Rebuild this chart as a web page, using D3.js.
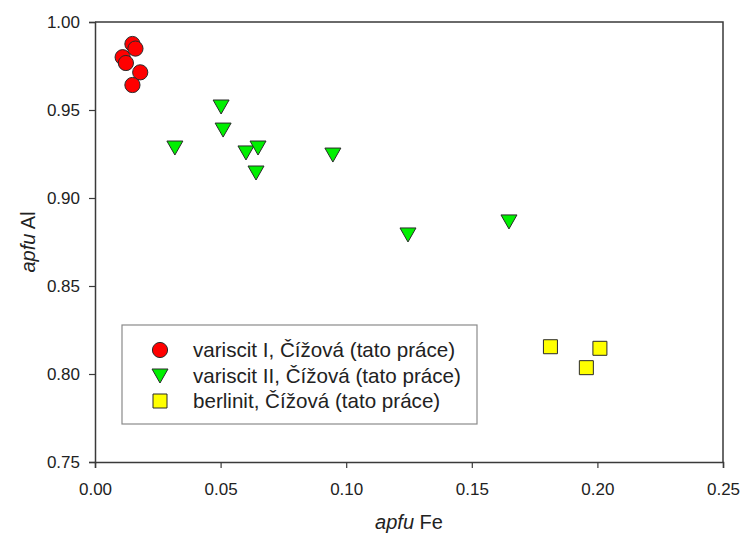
<!DOCTYPE html>
<html>
<head>
<meta charset="utf-8">
<script src="https://cdn.jsdelivr.net/npm/d3@7/dist/d3.min.js"></script>
<style>
  html, body { margin: 0; padding: 0; background: #fff; }
  svg { display: block; }
  text { font-family: "Liberation Sans", Arial, sans-serif; fill: #222; }
</style>
</head>
<body>
<svg id="chart" width="743" height="533"></svg>
<script>
// Variscite I (Fe, Al in apfu)
const varisciteI_Fe = [0.0149, 0.0161, 0.0110, 0.0123, 0.0180, 0.0149];
const varisciteI_Al = [0.9875, 0.9849, 0.9800, 0.9767, 0.9714, 0.9642];

// Variscite II
const varisciteII_Fe = [0.0318, 0.0502, 0.0510, 0.0601, 0.0649, 0.0641, 0.0947, 0.1246, 0.1648];
const varisciteII_Al = [0.9284, 0.9517, 0.9386, 0.9256, 0.9284, 0.9142, 0.9244, 0.8790, 0.8864];

// Berlinite
const berlinite_Fe = [0.1813, 0.2010, 0.1956];
const berlinite_Al = [0.8155, 0.8146, 0.8036];

const xTicks = [0.00, 0.05, 0.10, 0.15, 0.20, 0.25];
const yTicks = [0.75, 0.80, 0.85, 0.90, 0.95, 1.00];

const seriesNames = [
  "variscit I, Čížová (tato práce)",
  "variscit II, Čížová (tato práce)",
  "berlinit, Čížová (tato práce)"
];

const svg = d3.select("#chart");
const margin = { left: 95, right: 20, top: 22, bottom: 71 };
const W = 743, H = 533;
const x = d3.scaleLinear().domain([0, 0.25]).range([margin.left, W - margin.right]);
const y = d3.scaleLinear().domain([0.75, 1.00]).range([H - margin.bottom, margin.top]);

const axisColor = "#3a3a3a";

// frame (top and right edges)
svg.append("path")
  .attr("d", `M${x(0)},${y(1)}H${x(0.25)}V${y(0.75)}`)
  .attr("fill", "none").attr("stroke", axisColor).attr("stroke-width", 1.5);

const xAxis = svg.append("g")
  .attr("transform", `translate(0,${y(0.75)})`)
  .call(d3.axisBottom(x).tickValues(xTicks).tickFormat(d3.format(".2f")).tickSize(6).tickPadding(15));
const yAxis = svg.append("g")
  .attr("transform", `translate(${x(0)},0)`)
  .call(d3.axisLeft(y).tickValues(yTicks).tickFormat(d3.format(".2f")).tickSize(6).tickPadding(9));

[xAxis, yAxis].forEach(g => {
  g.select(".domain").attr("stroke", axisColor).attr("stroke-width", 1.5);
  g.selectAll(".tick line").attr("stroke", axisColor).attr("stroke-width", 1.2);
  g.selectAll(".tick text")
    .attr("font-family", "\"Liberation Sans\", Arial, sans-serif")
    .attr("font-size", 17).attr("fill", "#3a3a3a");
});

// axis titles
const xt = svg.append("text")
  .attr("x", (x(0) + x(0.25)) / 2).attr("y", 529)
  .attr("text-anchor", "middle").attr("font-size", 20);
xt.append("tspan").attr("font-style", "italic").text("apfu");
xt.append("tspan").text(" Fe");

const yt = svg.append("text")
  .attr("transform", `translate(35,${(y(0.75) + y(1)) / 2}) rotate(-90)`)
  .attr("text-anchor", "middle").attr("font-size", 20);
yt.append("tspan").attr("font-style", "italic").text("apfu");
yt.append("tspan").text(" Al");

const markerStroke = "#2a2a2a";
const circleSym = d3.symbol().type(d3.symbolCircle).size(Math.PI * 7.6 * 7.6);
const squareSym = d3.symbol().type(d3.symbolSquare).size(14 * 14);
// downward-pointing triangle
function triDown(cx, cy, w, h) {
  return `M${cx - w / 2},${cy - h / 2}L${cx + w / 2},${cy - h / 2}L${cx},${cy + h / 2}Z`;
}
const greenFill = "#00f000";

const plot = svg.append("g");

// berlinite
plot.selectAll(".sq").data(d3.range(berlinite_Fe.length)).join("path")
  .attr("d", squareSym)
  .attr("transform", i => `translate(${x(berlinite_Fe[i])},${y(berlinite_Al[i])})`)
  .attr("fill", "#ffff00").attr("stroke", markerStroke).attr("stroke-width", 1);

// variscite II
plot.selectAll(".tri").data(d3.range(varisciteII_Fe.length)).join("path")
  .attr("d", i => triDown(x(varisciteII_Fe[i]), y(varisciteII_Al[i]), 16, 14))
  .attr("fill", greenFill).attr("stroke", markerStroke).attr("stroke-width", 1);

// variscite I
plot.selectAll(".circ").data(d3.range(varisciteI_Fe.length)).join("path")
  .attr("d", circleSym)
  .attr("transform", i => `translate(${x(varisciteI_Fe[i])},${y(varisciteI_Al[i])})`)
  .attr("fill", "#ff0000").attr("stroke", markerStroke).attr("stroke-width", 1);

// legend
const lg = svg.append("g").attr("transform", "translate(122,325)");
lg.append("rect").attr("width", 355).attr("height", 99)
  .attr("fill", "#fff").attr("stroke", "#8a8a8a").attr("stroke-width", 1.2);
const rowY = [25, 51, 76];
const mx = 38;
lg.append("path").attr("d", circleSym).attr("transform", `translate(${mx},${rowY[0]})`)
  .attr("fill", "#ff0000").attr("stroke", markerStroke);
lg.append("path").attr("d", triDown(mx, rowY[1], 16, 14))
  .attr("fill", greenFill).attr("stroke", markerStroke);
lg.append("path").attr("d", squareSym).attr("transform", `translate(${mx},${rowY[2]})`)
  .attr("fill", "#ffff00").attr("stroke", markerStroke);
seriesNames.forEach((s, i) => {
  lg.append("text").attr("x", 71).attr("y", rowY[i]).attr("dy", "0.35em")
    .attr("font-size", 20.6).attr("fill", "#222").text(s);
});
</script>
</body>
</html>
